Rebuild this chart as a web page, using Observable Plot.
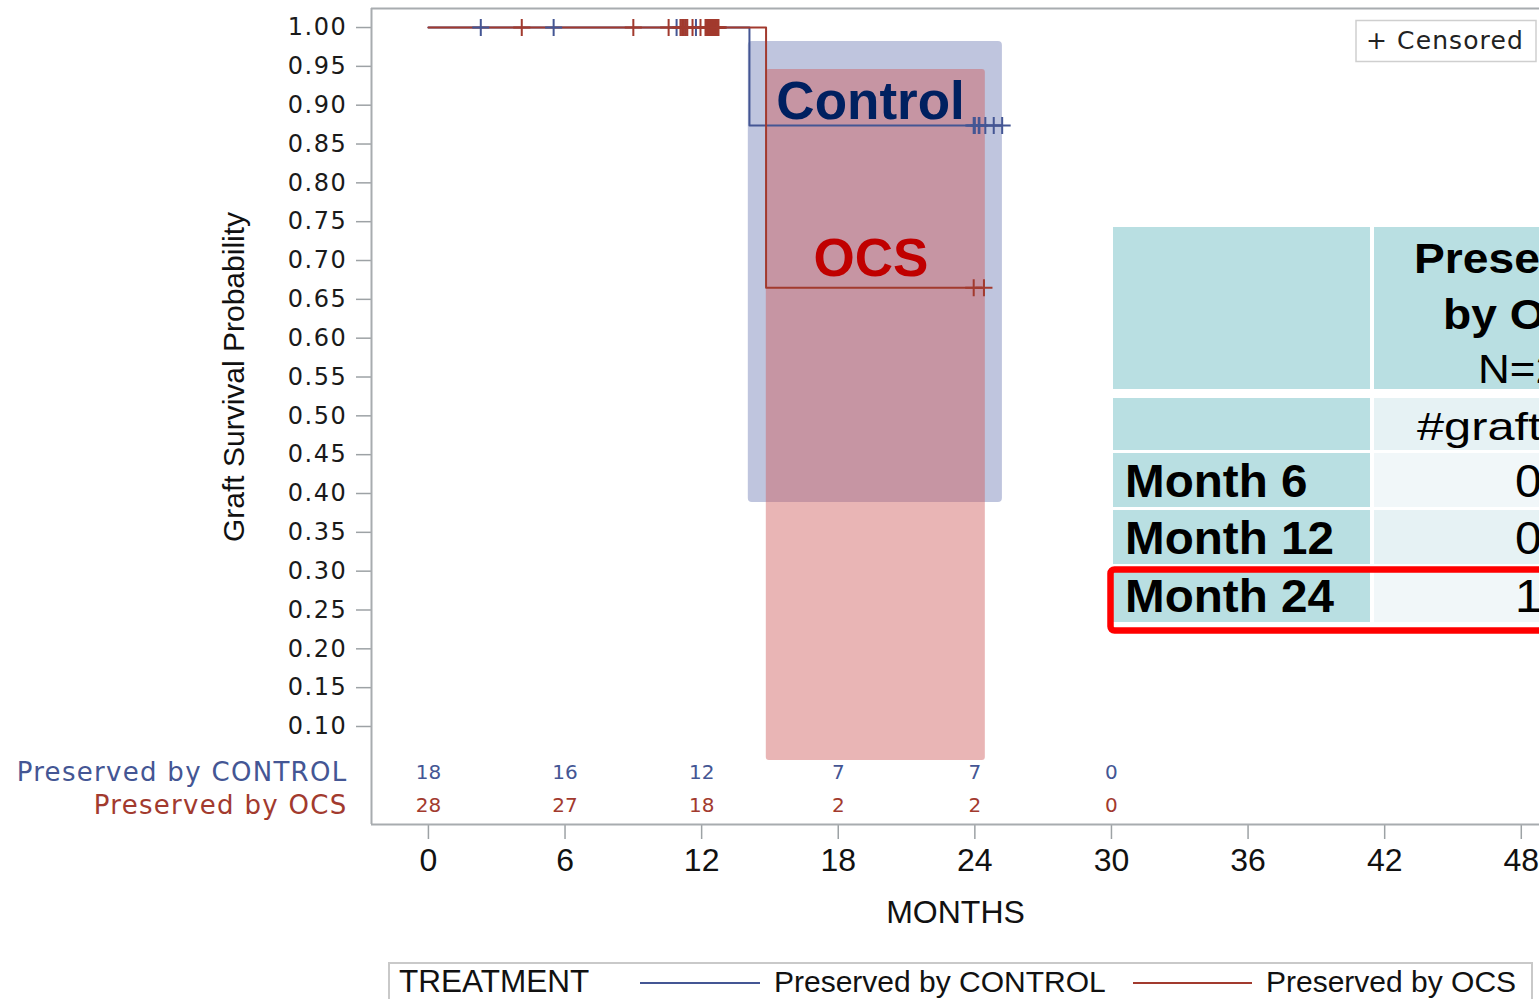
<!DOCTYPE html>
<html>
<head>
<meta charset="utf-8">
<script src="https://cdn.jsdelivr.net/npm/d3@7"></script>
<script src="https://cdn.jsdelivr.net/npm/@observablehq/plot@0.6"></script>
<style>
html, body { margin: 0; padding: 0; background: #fff; overflow: hidden; width: 1539px; height: 999px; }
#wrap { position: relative; width: 1539px; height: 955px; }
#wrap > svg { display: block; }
#overlay { position: absolute; left: 0; top: 0; pointer-events: none; }
#legend svg { display: block; }
</style>
</head>
<body>
<div id="wrap"></div>
<div id="legend"></div>
<script>
// ---------- data ----------
const monthTicks = [0, 6, 12, 18, 24, 30, 36, 42, 48];
const yTicks = [0.10, 0.15, 0.20, 0.25, 0.30, 0.35, 0.40, 0.45, 0.50, 0.55, 0.60, 0.65, 0.70, 0.75, 0.80, 0.85, 0.90, 0.95, 1.00];
const groups = ["Preserved by CONTROL", "Preserved by OCS"];
const groupColors = ["#445694", "#A23A2E"];

// Kaplan-Meier steps
const controlTimes = [0, 14.1, 25.2];
const controlSurv = [1.0, 0.874, 0.874];
const ocsTimes = [0, 14.83, 24.4];
const ocsSurv = [1.0, 0.665, 0.665];

// censoring times
const controlCensor = [2.3, 5.5, 10.9, 11.2, 11.3, 11.75, 12.3, 12.45, 12.55, 12.7,
                       23.95, 24.0, 24.17, 24.2, 24.46, 24.83, 25.2];
const ocsCensor = [4.1, 9.0, 10.55, 11.07, 11.14, 11.22, 11.30, 11.37, 11.6, 11.95,
                   12.17, 12.21, 12.25, 12.29, 12.33, 12.38, 12.42, 12.46, 12.50, 12.54, 12.58, 12.62, 12.66, 12.70, 12.74,
                   23.95, 24.4];

// numbers at risk
const riskMonths = [0, 6, 12, 18, 24, 30];
const controlAtRisk = [18, 16, 12, 7, 7, 0];
const ocsAtRisk = [28, 27, 18, 2, 2, 0];

// highlight bands (annotation)
const bandNames = ["Control", "OCS"];
const bandX1 = [14.05, 14.84];
const bandX2 = [25.21, 24.46];
const bandY1 = [0.3885, 0.0563];
const bandY2 = [0.982, 0.946];
const bandLabelX = [19.42, 19.44];
const bandLabelY = [0.8828, 0.6807];
const bandLabelColors = ["#002060", "#C00000"];

// table (annotation)
const tableHeader = ["Preserved", "by OCS", "N=28"];
const tableSubHeader = "#graft loss";
const tableRowLabels = ["Month 6", "Month 12", "Month 24"];
const tableValues = ["0", "0", "1"];

const xDomain = [-2.5, 48.8];
const yDomain = [-0.0262, 1.0245];

// ---------- helpers ----------
function survAt(times, surv, t) {
  let s = surv[0];
  for (let i = 0; i < times.length; i++) if (times[i] <= t) s = surv[i];
  return s;
}
const plusSymbol = {
  draw(ctx, size) {
    const r = Math.sqrt(size / Math.PI);
    ctx.moveTo(0, -r); ctx.lineTo(0, r);
    ctx.moveTo(-r, 0); ctx.lineTo(r, 0);
  }
};
const frameColor = "#a8acaf";
const yMid = (d3.min(yTicks) + d3.max(yTicks)) / 2;
const sans = "Liberation Sans, Arial, sans-serif";
const dv = "DejaVu Sans, sans-serif";

const chart = Plot.plot({
  width: 1539,
  height: 955,
  marginLeft: 371,
  marginRight: 0,
  marginTop: 8,
  marginBottom: 131,
  x: {domain: xDomain},
  y: {domain: yDomain},
  style: {background: "white", overflow: "visible"},
  marks: [
    // bands
    Plot.rect([0], {x1: () => bandX1[0], x2: () => bandX2[0], y1: () => bandY1[0], y2: () => bandY2[0], fill: "#bfc5de", rx: 4}),
    Plot.rect([1], {x1: () => bandX1[1], x2: () => bandX2[1], y1: () => bandY1[1], y2: () => bandY2[1], fill: "rgb(206,90,90)", fillOpacity: 0.45, rx: 3}),
    // curves
    Plot.line(controlTimes, {x: d => d, y: (d, i) => controlSurv[i], curve: "step-after", stroke: groupColors[0], strokeWidth: 2}),
    Plot.line(ocsTimes, {x: d => d, y: (d, i) => ocsSurv[i], curve: "step-after", stroke: groupColors[1], strokeWidth: 2}),
    // censor marks
    Plot.dot(controlCensor, {x: d => d, y: d => survAt(controlTimes, controlSurv, d), symbol: plusSymbol, r: 8.5, stroke: groupColors[0], fill: "none", strokeWidth: 2}),
    Plot.dot(ocsCensor, {x: d => d, y: d => survAt(ocsTimes, ocsSurv, d), symbol: plusSymbol, r: 8.5, stroke: groupColors[1], fill: "none", strokeWidth: 2}),
    // band labels
    Plot.text([bandNames[0]], {x: () => bandLabelX[0], y: () => bandLabelY[0], text: d => d, fill: bandLabelColors[0], fontSize: 53, fontWeight: "bold", fontFamily: sans, lineAnchor: "bottom"}),
    Plot.text([bandNames[1]], {x: () => bandLabelX[1], y: () => bandLabelY[1], text: d => d, fill: bandLabelColors[1], fontSize: 53, fontWeight: "bold", fontFamily: sans, lineAnchor: "bottom"}),
    // at-risk numbers
    Plot.text(riskMonths, {x: d => d, text: (d, i) => String(controlAtRisk[i]), frameAnchor: "bottom", lineAnchor: "middle", dy: -52, fill: groupColors[0], fontSize: 20, fontFamily: dv}),
    Plot.text(riskMonths, {x: d => d, text: (d, i) => String(ocsAtRisk[i]), frameAnchor: "bottom", lineAnchor: "middle", dy: -19, fill: groupColors[1], fontSize: 20, fontFamily: dv}),
    Plot.text([groups[0]], {text: d => d, frameAnchor: "bottom-left", lineAnchor: "middle", dx: -24, dy: -52, textAnchor: "end", fill: groupColors[0], fontSize: 26, fontFamily: dv}),
    Plot.text([groups[1]], {text: d => d, frameAnchor: "bottom-left", lineAnchor: "middle", dx: -24, dy: -19, textAnchor: "end", fill: groupColors[1], fontSize: 26, fontFamily: dv}),
    // axes
    Plot.axisX(monthTicks, {tickSize: 15, tickPadding: 9, fontSize: 32, fontFamily: sans, stroke: "#9da2a5", strokeWidth: 1.5, fill: "#111", label: null}),
    Plot.axisY(yTicks, {tickSize: 15, tickPadding: 9, tickFormat: d3.format(".2f"), fontSize: 24, fontFamily: dv, stroke: "#9da2a5", strokeWidth: 1.5, fill: "#1a1a1a", label: null}),
    Plot.text(["MONTHS"], {text: d => d, frameAnchor: "bottom", dy: 98, lineAnchor: "bottom", fontSize: 32, fontFamily: sans, fill: "#111"}),
    Plot.text(["Graft Survival Probability"], {text: d => d, frameAnchor: "left", y: () => yMid, dx: -137, rotate: -90, textAnchor: "middle", lineAnchor: "middle", fontSize: 30, fontFamily: sans, fill: "#111"}),
    // frame (top, bottom, left)
    Plot.ruleY([yDomain[1], yDomain[0]], {stroke: frameColor, strokeWidth: 2}),
    Plot.ruleX([xDomain[0]], {stroke: frameColor, strokeWidth: 2})
  ]
});

document.getElementById("wrap").appendChild(chart);
const sel = d3.select(chart);
sel.selectAll('g[aria-label="y-axis tick label"] text').attr("letter-spacing", "1.6");
sel.selectAll("text").filter(function () { return groups.includes(this.textContent); })
  .attr("letter-spacing", "1.3");

// ---------- overlay: table and censored key ----------
const ov = d3.select("#wrap").append("svg")
  .attr("id", "overlay").attr("width", 1539).attr("height", 955);

// censored key
ov.append("rect").attr("x", 1356).attr("y", 20.5).attr("width", 180).attr("height", 41)
  .attr("fill", "#fff").attr("stroke", "#cfcfcf").attr("stroke-width", 1.5);
ov.append("text").attr("x", 1366).attr("y", 49).text("+ Censored")
  .attr("font-family", dv).attr("font-size", 25).attr("letter-spacing", "1.1").attr("fill", "#222");

// table cells
const teal = "#b9dfe2";
const col1 = {x: 1113, w: 257}, col2 = {x: 1374, w: 400};
const rows = [
  {y: 227, h: 162, c1: teal, c2: teal},
  {y: 398, h: 52, c1: teal, c2: "#e6f2f4"},
  {y: 453, h: 54, c1: teal, c2: "#f1f7f9"},
  {y: 510, h: 54, c1: teal, c2: "#e6f2f4"},
  {y: 568, h: 54, c1: teal, c2: "#f1f7f9"}
];
rows.forEach(r => {
  ov.append("rect").attr("x", col1.x).attr("y", r.y).attr("width", col1.w).attr("height", r.h).attr("fill", r.c1);
  ov.append("rect").attr("x", col2.x).attr("y", r.y).attr("width", col2.w).attr("height", r.h).attr("fill", r.c2);
});
function stretchedText(x, y, t, size, weight, sx) {
  ov.append("text").attr("transform", `translate(${x},${y}) scale(${sx},1)`).text(t)
    .attr("font-family", sans).attr("font-size", size).attr("font-weight", weight).attr("fill", "#000");
}
const hdrX = [1414, 1443, 1478], hdrY = [273, 329, 383], hdrW = ["bold", "bold", "normal"], hdrS = [42, 42, 40];
tableHeader.forEach((t, i) => stretchedText(hdrX[i], hdrY[i], t, hdrS[i], hdrW[i], 1.1));
stretchedText(1417, 440, tableSubHeader, 39, "normal", 1.25);
const rowBase = [497, 554, 612];
tableRowLabels.forEach((t, i) => {
  stretchedText(1125, rowBase[i], t, 46, "bold", 1.035);
  stretchedText(1515, rowBase[i], tableValues[i], 46, "normal", 1.05);
});
// red highlight box around Month 24
ov.append("rect").attr("x", 1110.5).attr("y", 569.5).attr("width", 600).attr("height", 61)
  .attr("rx", 4).attr("fill", "none").attr("stroke", "#ff0000").attr("stroke-width", 6.5);

// ---------- bottom legend ----------
const lg = d3.select("#legend").append("svg").attr("width", 1539).attr("height", 44);
lg.append("rect").attr("x", 389).attr("y", 8).attr("width", 1143).attr("height", 60)
  .attr("fill", "none").attr("stroke", "#c9c9c9").attr("stroke-width", 2);
lg.append("text").attr("x", 399).attr("y", 37).text("TREATMENT")
  .attr("font-family", sans).attr("font-size", 31.5).attr("fill", "#111");
const legLineX = [[640, 760], [1133, 1252]], legTextX = [774, 1266];
groups.forEach((g, i) => {
  lg.append("line").attr("x1", legLineX[i][0]).attr("x2", legLineX[i][1]).attr("y1", 28).attr("y2", 28)
    .attr("stroke", groupColors[i]).attr("stroke-width", 2);
  lg.append("text").attr("x", legTextX[i]).attr("y", 37).text(g)
    .attr("font-family", sans).attr("font-size", 30).attr("fill", "#111");
});
</script>
</body>
</html>
